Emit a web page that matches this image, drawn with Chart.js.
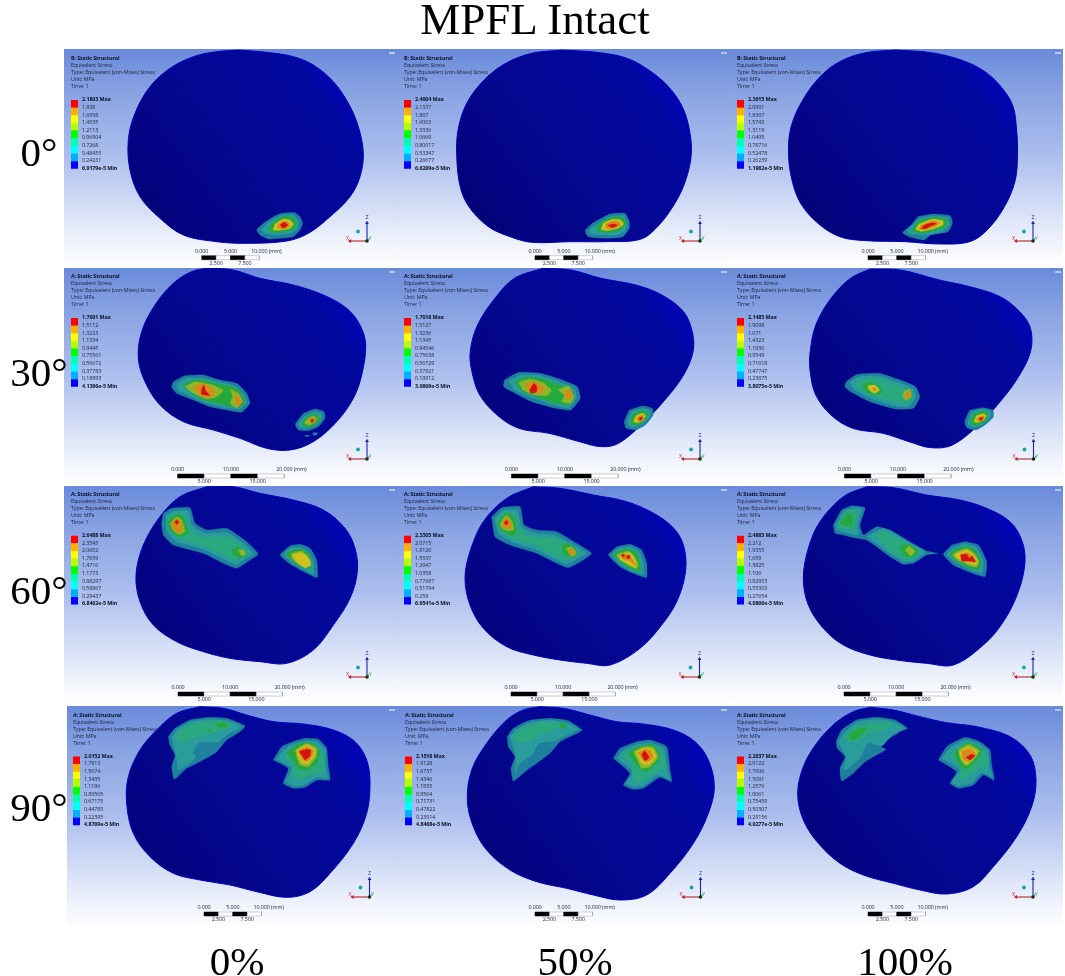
<!DOCTYPE html>
<html><head><meta charset="utf-8">
<script src="https://cdn.jsdelivr.net/npm/chart.js@4"></script>
<style>
html,body{margin:0;padding:0;background:#fff;width:1065px;height:976px;overflow:hidden}
#page{position:relative;width:1065px;height:976px;overflow:hidden}
.panel{position:absolute;background:linear-gradient(180deg,#6a8bdb 0%,#8ba5e3 22%,#aabded 48%,#d3ddf6 72%,#f2f5fc 90%,#ffffff 100%)}
canvas{position:absolute;left:0;top:0;filter:blur(.4px)}
.t{position:absolute;white-space:nowrap;transform:translateY(-50%);line-height:1}
.s{font-family:"Open Sans","Noto Sans",sans-serif;font-size:5.4px;color:#20283f;letter-spacing:-.02em;filter:blur(.2px)}
.b{font-weight:700;color:#0b1024}
.big{font-family:"Liberation Serif",serif;font-size:41px;color:#000}
.ttl{font-size:45px}
.c{transform:translate(-50%,-50%)}
</style></head><body><div id="page"></div>
<script>
// ---- text ----
const chartTitle = "MPFL Intact";
const angleLabels = ["0°","30°","60°","90°"];
const percentLabels = ["0%","50%","100%"];
const headerLinesRest = ["Equivalent Stress","Type: Equivalent (von-Mises) Stress","Unit: MPa","Time: 1"];
const headersByRow = ["B: Static Structural","A: Static Structural","A: Static Structural","A: Static Structural"];
const scaleTopSmall = ["0.000","5.000","10.000 (mm)"];
const scaleBottomSmall = ["2.500","7.500"];
const scaleTopLarge = ["0.000","10.000","20.000 (mm)"];
const scaleBottomLarge = ["5.000","15.000"];

// ---- colour-bar levels ----
const levelsR1C1 = ["2.1803 Max","1.938","1.6958","1.4535","1.2113","0.96904","0.7268","0.48455","0.24231","6.9179e-5 Min"];
const levelsR1C2 = ["2.4004 Max","2.1337","1.867","1.6003","1.3336","1.0669","0.80017","0.53347","0.26677","6.6209e-5 Min"];
const levelsR1C3 = ["2.3615 Max","2.0991","1.8367","1.5743","1.3119","1.0495","0.78716","0.52478","0.26239","1.1982e-5 Min"];
const levelsR2C1 = ["1.7001 Max","1.5112","1.3223","1.1334","0.9445","0.75561","0.56672","0.37783","0.18893","4.1396e-5 Min"];
const levelsR2C2 = ["1.7018 Max","1.5127","1.3236","1.1345","0.94546","0.75638","0.56729","0.37821","0.18912","3.9869e-5 Min"];
const levelsR2C3 = ["2.1485 Max","1.9098","1.671","1.4323","1.1936","0.9549","0.71618","0.47747","0.23875","3.8075e-5 Min"];
const levelsR3C1 = ["2.6488 Max","2.3545","2.0602","1.7659","1.4716","1.1773","0.88297","0.58867","0.29437","6.8462e-5 Min"];
const levelsR3C2 = ["2.3305 Max","2.0715","1.8126","1.5537","1.2947","1.0358","0.77687","0.51794","0.259","6.9541e-5 Min"];
const levelsR3C3 = ["2.4885 Max","2.212","1.9355","1.659","1.3825","1.106","0.82953","0.55303","0.27654","4.0866e-5 Min"];
const levelsR4C1 = ["2.0152 Max","1.7913","1.5674","1.3435","1.1196","0.89565","0.67175","0.44785","0.22395","4.8769e-5 Min"];
const levelsR4C2 = ["2.1518 Max","1.9128","1.6737","1.4346","1.1955","0.9564","0.71731","0.47822","0.23914","4.8468e-5 Min"];
const levelsR4C3 = ["2.2637 Max","2.0122","1.7606","1.5091","1.2576","1.0061","0.75459","0.50307","0.25156","4.0277e-5 Min"];

// ---- surface outlines, x,y pairs ----
const outlineR1C1 = [535,30,620,37,700,50,760,75,820,125,865,190,895,260,910,340,900,410,870,470,810,530,745,580,680,603,560,610,470,605,370,585,300,535,240,470,210,390,205,300,225,220,270,140,330,85,400,50,470,35];
const outlineR1C2 = [420,30,500,37,570,55,625,95,665,140,695,195,712,260,718,340,705,420,680,490,640,560,600,598,520,605,440,605,350,607,300,590,250,560,205,500,185,440,177,350,180,270,200,190,240,120,290,70,350,40];
const outlineR1C3 = [1190,30,1270,38,1340,60,1395,95,1435,145,1460,200,1468,270,1470,340,1465,420,1440,500,1400,570,1360,605,1290,612,1210,605,1120,602,1060,590,1010,550,970,490,950,420,942,340,948,260,975,180,1015,110,1060,65,1120,38];
const outlineR2C1 = [450,8,520,15,600,40,700,60,790,90,860,130,900,180,917,240,905,330,880,400,830,470,760,530,690,555,620,550,540,520,460,495,370,470,300,420,255,350,235,280,245,200,285,120,340,55,395,20];
const outlineR2C2 = [375,10,440,15,510,40,590,60,650,90,700,140,720,200,722,260,700,330,660,400,610,470,550,535,510,545,460,530,390,505,320,490,270,450,230,390,212,320,208,260,225,180,265,100,310,40];
const outlineR2C3 = [1130,12,1200,15,1290,45,1360,65,1430,95,1475,140,1500,190,1500,260,1470,340,1430,410,1380,480,1320,540,1270,548,1220,530,1160,505,1090,490,1040,450,1005,390,992,320,992,260,1005,180,1040,100,1085,40];
const outlineR3C1 = [440,5,520,5,600,25,700,45,790,75,855,130,885,190,892,260,870,340,820,420,760,495,680,535,600,530,510,520,430,500,350,470,280,420,240,350,228,270,250,180,300,95,360,35];
const outlineR3C2 = [460,5,540,10,640,30,740,50,830,90,890,140,915,200,915,270,890,350,845,420,780,490,690,540,620,535,540,525,460,510,380,485,310,430,270,360,255,280,270,200,310,110,380,40];
const outlineR3C3 = [440,5,520,8,620,30,720,45,800,70,870,110,905,165,915,230,895,320,850,410,790,480,700,540,620,535,530,525,450,510,370,480,310,430,265,360,250,280,265,190,300,110,370,35];
const outlineR4C1 = [420,20,490,25,560,45,640,65,730,72,820,90,885,125,920,180,930,250,920,340,880,430,810,520,750,575,680,592,590,575,510,555,420,540,340,520,270,470,220,400,200,310,205,230,240,150,290,90,350,40];
const outlineR4C2 = [480,20,550,25,630,45,710,65,790,72,880,90,945,125,985,180,1003,260,985,340,940,430,870,520,800,585,720,600,640,585,560,565,470,545,390,510,320,450,280,380,262,300,275,210,320,130,380,60,430,30];
const outlineR4C3 = [450,22,520,30,600,50,680,68,770,80,870,110,930,165,948,240,935,320,890,410,820,500,760,560,680,582,600,570,520,550,430,525,360,490,295,430,250,360,233,280,250,200,290,130,345,70,400,35];

// ---- stress contours: each entry is [band, x,y,x,y,...] ----
const contoursR1C1 = [
[0,640,530,665,520,705,518,720,530,728,550,720,570,700,590,660,595,625,597,600,585,590,570,610,550],
[1,645,535,670,525,700,525,715,545,712,565,690,580,650,585,615,580,605,570,620,552],
[3,640,545,670,530,695,530,710,548,700,568,670,575,640,578,625,570],
[5,645,552,670,537,690,540,700,552,690,565,665,570,640,570],
[6,655,553,672,543,688,548,690,558,672,566,652,565],
[7,660,555,672,547,684,555,670,565]];
const contoursR1C2 = [
[0,510,535,530,522,565,520,575,545,575,565,560,590,520,595,480,590,473,572,490,550],
[1,515,540,535,528,562,527,570,550,565,572,545,585,510,585,485,582,483,568,498,555],
[3,512,545,535,532,560,533,567,552,555,570,530,578,505,575,497,565],
[5,515,550,535,538,555,540,562,552,548,565,525,572,510,568],
[6,520,552,538,543,552,546,555,555,540,565,522,566],
[7,525,556,540,552,548,556,535,563]];
const contoursR1C3 = [
[0,1240,530,1275,522,1315,527,1320,550,1310,575,1270,585,1255,600,1220,590,1205,578,1225,555],
[1,1240,538,1275,528,1310,533,1313,555,1295,575,1260,585,1225,583,1215,572,1228,555],
[3,1240,545,1275,532,1305,538,1305,558,1285,570,1250,580,1228,572],
[5,1243,552,1275,537,1298,542,1298,555,1275,567,1248,574,1235,568],
[6,1248,555,1275,542,1290,547,1285,556,1260,568,1243,568],
[7,1248,566,1254,557,1262,552,1275,548,1283,551,1270,558,1258,566]];
const contoursR2C1 = [
[0,340,350,375,332,430,330,480,345,530,355,560,385,570,415,545,442,500,435,450,425,400,405,350,385,335,365],
[1,350,355,380,340,430,340,480,352,525,363,552,390,560,415,540,432,495,428,440,415,395,395,355,375],
[3,370,360,400,345,440,348,490,360,530,370,550,395,550,420,530,428,490,418,430,405,395,385],
[4,375,365,405,350,450,358,490,375,470,395,440,402,400,385],
[4,510,372,535,385,548,410,530,428,510,415,518,395],
[6,400,365,430,355,465,380,450,398,420,390],
[6,525,385,540,400,545,415,530,422],
[7,425,370,432,360,437,378,450,392,425,388],
[0,730,445,765,432,792,440,795,460,775,485,745,497,715,495,706,478],
[1,735,452,765,440,785,447,785,465,765,482,740,490,718,487,715,475],
[3,738,458,762,447,778,455,775,470,755,485,733,485,725,475],
[4,745,460,760,453,770,460,765,472,750,480,737,478,735,470],
[6,750,462,760,458,765,465,755,475,748,472],
[7,753,464,761,463,760,470,753,472],
[0,760,503,772,503,770,510,758,510],
[0,735,510,748,511,745,515,735,514]];
const contoursR2C2 = [
[0,287,345,320,322,370,325,420,345,455,365,462,400,440,435,405,430,350,410,305,380,285,365],
[1,297,348,325,330,370,332,415,352,448,370,453,400,435,428,405,422,355,400,310,375],
[3,310,350,335,337,372,340,415,360,440,372,448,400,435,420,405,415,360,395,325,375],
[4,320,352,345,342,375,352,395,375,385,392,355,390,330,375],
[4,410,375,435,362,447,395,440,415,420,410,425,390],
[6,335,358,355,350,380,370,370,385,345,375],
[6,425,380,440,375,443,400,428,400],
[7,345,375,355,355,362,365,360,382,348,385],
[0,575,435,605,423,628,430,630,450,612,480,590,495,568,490,563,470],
[1,580,440,605,430,622,436,622,455,605,478,585,487,572,480,572,465],
[3,585,447,605,437,617,443,615,460,600,478,583,480,577,470],
[5,590,452,606,445,612,452,607,465,595,473,585,470],
[6,595,455,607,450,608,458,598,470,592,465],
[7,598,458,605,456,604,464,599,466]];
const contoursR2C3 = [
[0,1075,350,1100,328,1150,325,1200,345,1235,365,1245,395,1230,430,1190,432,1130,410,1085,380,1072,365],
[1,1082,352,1105,335,1150,333,1195,352,1230,372,1235,395,1220,425,1190,423,1135,402,1095,375],
[2,1095,355,1115,342,1150,342,1190,360,1222,375,1228,400,1215,418,1190,412,1140,395,1110,375],
[3,1110,360,1130,352,1155,368,1155,385,1140,390,1120,378],
[4,1210,378,1222,372,1226,395,1212,405,1205,392],
[5,1125,362,1140,360,1152,375,1140,385,1128,375],
[6,1213,385,1222,380,1222,395,1213,398],
[6,1136,368,1142,368,1145,376,1138,378],
[0,1360,435,1390,428,1413,435,1415,455,1395,480,1375,495,1355,490,1348,470],
[1,1365,440,1390,433,1408,440,1406,458,1390,478,1370,486,1357,480,1356,466],
[3,1370,447,1390,438,1402,445,1400,460,1385,478,1368,480,1362,470],
[5,1375,452,1392,446,1398,452,1392,465,1380,472,1370,470],
[6,1380,457,1392,452,1394,458,1385,469,1377,466],
[7,1382,459,1390,457,1389,464,1383,466]];
const contoursR3C1 = [
[0,310,85,335,70,390,68,405,115,440,135,500,130,560,170,595,207,570,225,530,250,490,235,430,205,340,180,310,150,305,115],
[1,318,90,345,78,385,78,395,120,435,145,500,142,550,175,580,207,555,222,530,238,490,222,430,192,350,170,320,140],
[2,322,100,345,85,375,88,385,125,420,155,500,155,540,180,565,205,540,220,515,225,480,205,420,178,355,160,328,135],
[3,322,110,350,88,370,95,385,145,360,155,335,140],
[3,515,195,535,185,560,205,545,218,520,210],
[2,420,165,470,155,510,175,490,190,440,178],
[4,330,115,350,95,365,105,375,140,355,148,338,135],
[4,535,195,550,195,558,207,545,213],
[6,335,118,350,100,362,112,368,135,352,142,340,130],
[7,344,110,352,104,357,112,350,119],
[0,690,182,720,178,750,190,770,225,772,278,735,262,695,240,660,210],
[1,690,190,720,186,745,200,760,230,760,268,730,253,695,232,670,208],
[3,695,197,720,192,745,205,755,235,745,252,720,243,695,225,678,208],
[4,695,205,725,198,745,215,752,240,735,248,712,235,695,220],
[5,695,210,725,203,748,222,752,240,735,248,710,230]];
const contoursR3C2 = [
[0,335,95,365,68,420,65,432,120,470,135,530,140,590,175,635,205,605,228,565,248,530,235,470,205,390,180,345,155],
[1,345,100,370,76,412,75,425,125,465,145,525,150,585,182,620,205,590,222,560,238,525,222,465,192,395,170,355,145],
[2,350,105,375,80,405,85,418,130,450,155,525,160,570,185,600,205,575,220,550,228,515,205,455,178,395,160,360,138],
[3,350,115,380,85,400,95,410,140,395,152,365,135],
[3,545,180,565,175,595,205,575,218,550,205],
[4,360,115,380,90,397,110,402,133,385,138,365,130],
[4,558,190,575,185,590,205,575,215],
[6,367,115,380,97,392,112,395,128,380,132,370,125],
[6,565,195,578,192,585,205,575,212],
[7,372,113,380,106,385,114,378,120],
[0,710,185,750,178,785,195,800,235,800,278,760,265,720,245,685,210],
[1,715,190,750,185,778,200,790,235,790,268,755,258,720,238,695,210],
[3,717,197,750,192,770,205,782,235,778,258,750,250,720,230,703,210],
[4,720,205,745,198,762,212,775,240,770,252,745,240,720,225,710,210],
[5,722,210,745,203,760,215,770,240,765,248,740,235,720,222],
[6,727,212,745,208,755,220,770,245,750,228,728,222],
[7,725,208,733,208,733,215,725,215],
[7,740,212,750,212,750,220,740,220]];
const contoursR3C3 = [
[0,340,120,365,75,395,62,435,68,420,120,430,150,470,125,510,135,570,170,620,198,655,205,620,210,580,235,550,238,510,215,470,185,440,165,410,160,370,150,345,145],
[1,348,120,370,80,395,70,425,72,412,120,415,150,375,142,350,135],
[1,440,155,490,130,530,150,580,180,615,200,580,228,550,230,510,205,465,172],
[2,355,115,385,75,410,80,400,130,385,135,358,128],
[2,465,150,490,140,530,160,570,178,600,200,575,220,550,222,510,195],
[3,360,112,388,85,398,95,395,125,375,122],
[3,540,185,565,178,595,200,570,218,550,210],
[4,555,195,567,183,585,200,572,213],
[0,695,180,735,170,775,180,800,230,795,275,750,262,700,240,670,208],
[1,700,188,735,177,770,188,790,230,787,265,750,255,705,232,680,208],
[3,705,195,735,185,765,195,782,230,775,255,745,247,710,228,690,208],
[4,710,200,740,190,760,202,777,228,770,247,745,240,712,225,697,210],
[5,712,205,740,195,758,208,775,232,765,240,745,235,718,222,705,212],
[6,720,207,745,203,765,222,770,232,750,232,725,225],
[7,722,210,740,207,748,220,756,212,766,230,745,228,725,228]];
const contoursR4C1 = [
[0,325,110,345,85,390,60,450,52,500,55,555,78,540,95,500,120,470,155,420,185,380,205,343,238,335,200,345,165,330,135],
[1,335,110,355,85,395,65,450,58,500,62,545,80,500,105,470,130,450,145,415,160,400,180,355,210,350,175],
[0,400,158,418,128,475,128,470,155,420,180],
[2,345,110,370,85,410,68,470,62,520,75,490,90,450,100,400,115,365,125],
[3,470,72,495,66,505,78,480,84],
[3,443,90,452,88,452,95,444,95],
[0,640,180,665,140,700,125,735,115,775,118,800,145,805,200,810,240,770,240,735,262,700,265,670,250,685,205],
[1,650,178,672,148,705,130,740,122,770,125,795,150,798,200,803,235,770,232,730,255,705,258,680,245,695,205],
[2,672,170,690,150,715,135,745,130,765,133,790,165,790,215,750,225,710,240,695,210,700,190],
[3,680,160,710,135,750,128,778,150,770,190,745,208,715,205,700,180],
[4,705,150,740,130,770,145,770,170,745,200,720,195,710,170],
[5,710,152,740,135,765,148,762,170,742,192,722,185],
[6,715,152,740,140,760,150,755,170,740,185,727,178],
[7,717,155,740,148,752,150,750,168,735,180,725,165]];
const contoursR4C2 = [
[0,382,110,400,85,445,62,510,55,565,62,607,90,595,98,540,125,510,160,470,190,435,215,400,243,393,205,405,170,385,140],
[1,390,110,410,88,450,68,510,60,560,68,595,88,540,115,510,135,470,145,455,165,420,190,405,220,408,170],
[0,460,160,478,130,530,125,510,155,480,180],
[2,400,110,430,85,480,68,550,70,520,90,480,105,440,125,410,125],
[3,540,72,555,72,555,84,540,82],
[0,700,175,720,145,770,125,810,120,860,140,870,210,875,245,840,232,790,265,760,268,730,255,750,220],
[1,710,175,728,152,770,133,810,128,852,145,862,205,868,238,835,225,790,257,760,260,738,250,760,215],
[2,730,170,755,148,790,135,820,135,845,155,858,200,830,215,790,240,770,250,755,215,755,190],
[3,745,160,775,140,820,135,840,165,825,195,800,215,780,205,760,180],
[4,760,155,790,140,820,142,835,170,810,200,785,205,770,175],
[5,768,155,795,145,818,148,828,170,805,195,785,190],
[6,775,158,795,148,815,155,820,172,800,188,788,180],
[7,785,165,793,152,808,172,795,182]];
const contoursR4C3 = [
[0,348,125,365,90,410,60,470,52,525,60,563,85,540,95,495,125,470,160,430,190,400,220,365,243,360,205,375,170,352,145],
[1,355,125,375,95,415,65,470,58,520,65,553,85,515,105,490,135,440,150,420,175,370,215,378,170],
[0,425,165,445,130,498,148,470,165,440,180],
[0,362,225,365,208,385,215,372,238],
[2,375,115,405,85,450,70,520,72,490,90,450,100,410,125,385,125],
[3,385,105,415,85,440,85,425,105,395,120],
[0,655,180,680,140,735,112,780,125,810,150,815,195,823,240,790,225,760,255,715,265,690,250,710,215],
[1,665,175,690,145,735,120,775,130,805,155,808,200,817,230,785,218,755,248,715,258,695,245,720,210],
[2,690,165,715,140,745,128,775,140,800,160,805,195,770,210,735,235,720,235,720,200,700,180],
[3,705,155,745,128,785,150,770,180,740,208,720,195,710,175],
[4,715,150,745,133,778,152,765,175,740,198,722,180],
[5,718,155,745,140,772,155,760,172,740,192,726,178],
[6,725,155,750,145,768,162,745,185,730,178],
[7,738,172,755,163,765,167,750,180]];

// ---- colours ----
const bandColours = ["#1f7f9e","#2a9c9c","#2aa97e","#25a83c","#8fb52a","#cfc11f","#d9881b","#d41212"];
const legendColours = ["#ff0000","#ffb000","#ffff00","#b4ff00","#00ff00","#00ffb0","#00ffff","#00b0ff","#0000ff"];

// ---- layout (page pixels) ----
const colX = [[64,397],[397,729],[729,1063]];
const rowY = [[49,267.5],[268,485],[486,705],[706,930]];
const views = [ // crop origin + units per page pixel for the outline numbers
 [[60,40,3,3],[380,40,2.306,3],[380,40,2.306,3]],
 [[60,265,3,3],[380,265,2.306,3],[380,265,2.306,3]],
 [[60,485,3,3],[380,485,3,3],[720,485,3,3]],
 [[60,700,3,3],[380,700,3,3],[720,700,3,3]]];
const panelData = [
 [[outlineR1C1,contoursR1C1,levelsR1C1],[outlineR1C2,contoursR1C2,levelsR1C2],[outlineR1C3,contoursR1C3,levelsR1C3]],
 [[outlineR2C1,contoursR2C1,levelsR2C1],[outlineR2C2,contoursR2C2,levelsR2C2],[outlineR2C3,contoursR2C3,levelsR2C3]],
 [[outlineR3C1,contoursR3C1,levelsR3C1],[outlineR3C2,contoursR3C2,levelsR3C2],[outlineR3C3,contoursR3C3,levelsR3C3]],
 [[outlineR4C1,contoursR4C1,levelsR4C1],[outlineR4C2,contoursR4C2,levelsR4C2],[outlineR4C3,contoursR4C3,levelsR4C3]]];
const textX = [[71,404,737],[71,404,737],[71,404,737],[73,405,737]];
const headerY = [59.3,277.3,495.3,716];
const legendTop = [100.3,318.3,536,756.7];
const triadY = [241,459,677,897];
const triadX = [[367,700,1033],[367,700,1033.5],[367,699.5,1033],[369.5,700.5,1033]];
const barX = [[201.7,535,868],[177.5,511.4,844.4],[178,511,844],[204,535,868]];
const barY = [255.7,474,692,912];
const barSeg = [14.4,26.7,26.1,14.4];

const page = document.getElementById('page');
function text(str,x,y,cls,extra){const e=document.createElement('div');e.className='t '+cls;e.textContent=str;e.style.left=x+'px';e.style.top=y+'px';if(extra)Object.assign(e.style,extra);page.appendChild(e);return e;}
const toPairs = a => {const r=[];for(let i=0;i<a.length;i+=2)r.push({x:a[i],y:a[i+1]});return r;};

function buildPanel(r,c){
 const [outline,contours,levels]=panelData[r][c];
 const [ox,oy,sx,sy]=views[r][c];
 let [x0,x1]=colX[c]; const [y0,y1]=rowY[r];
 if(r===3&&c===0)x0=67;
 const w=x1-x0,h=y1-y0;
 const div=document.createElement('div');div.className='panel';
 Object.assign(div.style,{left:x0+'px',top:y0+'px',width:w+'px',height:h+'px'});
 page.appendChild(div);
 const cv=document.createElement('canvas');cv.width=Math.ceil(w);cv.height=Math.ceil(h);cv.style.width=Math.ceil(w)+'px';cv.style.height=Math.ceil(h)+'px';
 div.appendChild(cv);
 const U=(px,py)=>({x:(px-ox)*sx,y:(py-oy)*sy}); // page pixel -> chart units
 const g=cv.getContext('2d');
 const xs=outline.filter((_,i)=>i%2==0);
 const minX=Math.min(...xs),maxX=Math.max(...xs);
 const gx=v=>v/sx+ox-x0;
 const grad=g.createLinearGradient(gx(minX),h*0.9,gx(maxX),h*0.1);
 grad.addColorStop(0,'#010168');grad.addColorStop(.2,'#030380');grad.addColorStop(.5,'#040792');grad.addColorStop(.82,'#03089e');grad.addColorStop(1,'#0000c4');
 const ds=[];
 const poly=(pts,fill,stroke,bw,tension)=>{const p=pts.concat([pts[0]]);ds.push({data:p,showLine:true,pointRadius:0,borderWidth:bw||0,borderColor:stroke||'transparent',backgroundColor:fill,fill:'shape',tension:tension||0});};
 poly(toPairs(outline),grad,'#0000c0',1,.35);
 contours.forEach(k=>poly(toPairs(k.slice(1)),bandColours[k[0]],bandColours[k[0]],.3,.15));
 // colour bar
 const lx=textX[r][c],ly=legendTop[r]-.3,ch=7.65;
 legendColours.forEach((col,i)=>{poly([U(lx,ly+i*ch),U(lx+7,ly+i*ch),U(lx+7,ly+(i+1)*ch),U(lx,ly+(i+1)*ch)],col);});
 // scale bar
 const bx=barX[r][c],by=barY[r],sg=barSeg[r];
 [0,1,2,3].forEach(i=>{const a=bx+i*sg,b=a+sg;poly([U(a,by),U(b,by),U(b,by+4),U(a,by+4)],i%2?'#ffffff':'#000000',i%2?'#9aa0a8':'#000000',.5);});
 // small logo mark
 const logoX=x1-8;
 ds.push({data:[U(logoX,y0+4),U(logoX+6,y0+4)],showLine:true,pointRadius:0,borderWidth:1.6,borderColor:'rgba(225,232,250,.8)'});
 // triad
 const tx=triadX[r][c],ty=triadY[r];
 ds.push({data:[U(tx,ty),U(tx-17,ty)],showLine:true,borderColor:'#b8252a',borderWidth:1.1,pointRadius:[0,2.2],pointStyle:'triangle',rotation:-90,pointBackgroundColor:'#b8252a',pointBorderWidth:0});
 ds.push({data:[U(tx,ty),U(tx,ty-18)],showLine:true,borderColor:'#1525b5',borderWidth:1.1,pointRadius:[0,2.2],pointStyle:'triangle',pointBackgroundColor:'#1525b5',pointBorderWidth:0});
 ds.push({data:[U(tx,ty),U(tx+2.5,ty-3)],showLine:true,borderColor:'#1fa03a',borderWidth:1,pointRadius:0});
 ds.push({data:[U(tx,ty)],pointRadius:1.8,pointBackgroundColor:'#12351a',pointBorderWidth:0});
 ds.push({data:[U(tx-9,ty-9.5)],pointRadius:1.9,pointBackgroundColor:'#18a6a8',pointBorderWidth:0});
 ds.forEach((d,i)=>{d.order=ds.length-i;});
 new Chart(cv,{type:'scatter',data:{datasets:ds},options:{responsive:false,animation:false,events:[],
  layout:{padding:0,autoPadding:false},
  plugins:{legend:{display:false},tooltip:{enabled:false},title:{display:false}},
  scales:{x:{type:'linear',display:false,min:(x0-ox)*sx,max:(x0+Math.ceil(w)-ox)*sx},
          y:{type:'linear',display:false,reverse:true,min:(y0-oy)*sy,max:(y0+Math.ceil(h)-oy)*sy}}}});
 // text
 const tX=textX[r][c],hY=headerY[r];
 text(headersByRow[r],tX,hY,'s b');
 headerLinesRest.forEach((s,i)=>text(s,tX,hY+(i+1)*6.9,'s'));
 levels.forEach((s,i)=>text(s,tX+11,legendTop[r]+i*7.6,(i===0||i===9)?'s b':'s'));
 const small=barSeg[r]<20;
 const top=small?scaleTopSmall:scaleTopLarge,bot=small?scaleBottomSmall:scaleBottomLarge;
 top.forEach((s,i)=>{const X=bx+i*2*sg;if(i<2)text(s,X,by-3.9,'s c');else text(s,X-8,by-3.9,'s');});
 bot.forEach((s,i)=>text(s,bx+(2*i+1)*sg,by+8,'s c'));
 text('X',tx-21,ty-2,'s',{color:'#d8242a',fontSize:'5.5px'});
 text('Z',tx-1.5,ty-23,'s',{color:'#1525c5',fontSize:'5.5px'});
 text('Y',tx+2,ty-3,'s',{color:'#20a83a',fontSize:'4.5px'});
}
for(let r=0;r<4;r++)for(let c=0;c<3;c++)buildPanel(r,c);
text(chartTitle,535,19,'big ttl c');
const rowLabelY=[152,372,590,807];
angleLabels.forEach((s,i)=>text(s,39,rowLabelY[i],'big c'));
const colLabelX=[237,575,905];
percentLabels.forEach((s,i)=>text(s,colLabelX[i],961,'big c'));
</script></body></html>
